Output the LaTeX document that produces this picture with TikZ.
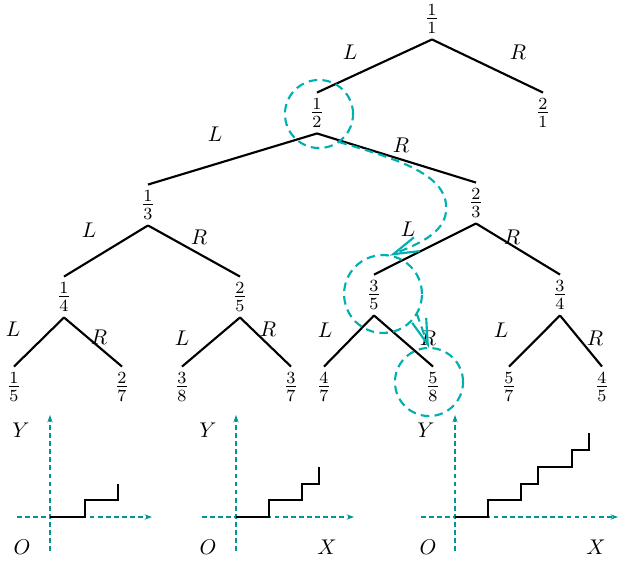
\documentclass[tikz,border=0pt]{standalone}
\usepackage{amsmath}
\usepackage{tikz}
\usetikzlibrary{arrows.meta}
\definecolor{tracecyan}{RGB}{0,176,176}
\definecolor{axisteal}{RGB}{0,150,150}

\begin{document}
\begin{tikzpicture}[x=0.47pt, y=-0.47pt, >=Stealth,
  frac/.style={inner sep=2.4pt, font=\fontsize{11.5}{13}\selectfont},
  lbl/.style={inner sep=0pt},
  edge/.style={line width=1pt, black},
  trace/.style={tracecyan, line width=1pt, dash pattern=on 4pt off 2.5pt},
  ring/.style={trace, circle, draw, inner sep=0pt, outer sep=0pt},
  barb/.style={-{Straight Barb[length=12pt, width=7pt]}},
  axis/.style={axisteal, line width=0.5pt, dash pattern=on 2.2pt off 1.6pt,
    -{Stealth[length=3.5pt, width=2.5pt]}},
  stairs/.style={line width=0.8pt}]
\useasboundingbox (0,0) rectangle (619,561);

% ---- tree nodes (top to bottom) ----
\node[frac] (n11) at (432, 19) {$\frac{1}{1}$};

\node[frac] (n12) at (317,113) {$\frac{1}{2}$};
\node[frac] (n21) at (543,113) {$\frac{2}{1}$};

\node[frac] (n13) at (148,205) {$\frac{1}{3}$};
\node[frac] (n23) at (476,203) {$\frac{2}{3}$};

\node[frac] (n14) at ( 64,297) {$\frac{1}{4}$};
\node[frac] (n25) at (240,297) {$\frac{2}{5}$};
\node[frac] (n35) at (374,295) {$\frac{3}{5}$};
\node[frac] (n34) at (560,295) {$\frac{3}{4}$};

\node[frac] (n15) at ( 14,387) {$\frac{1}{5}$};
\node[frac] (n27) at (122,387) {$\frac{2}{7}$};
\node[frac] (n38) at (182,387) {$\frac{3}{8}$};
\node[frac] (n37) at (291,387) {$\frac{3}{7}$};
\node[frac] (n47) at (324,387) {$\frac{4}{7}$};
\node[frac] (n58) at (433,387) {$\frac{5}{8}$};
\node[frac] (n57) at (509,387) {$\frac{5}{7}$};
\node[frac] (n45) at (602,387) {$\frac{4}{5}$};

% ---- branches ----
\draw[edge] (n11.south) -- (n12.north);
\draw[edge] (n11.south) -- (n21.north);
\draw[edge] (n12.south) -- (n13.north);
\draw[edge] (n12.south) -- (n23.north);
\draw[edge] (n13.south) -- (n14.north);
\draw[edge] (n13.south) -- (n25.north);
\draw[edge] (n23.south) -- (n35.north);
\draw[edge] (n23.south) -- (n34.north);
\draw[edge] (n14.south) -- (n15.north);
\draw[edge] (n14.south) -- (n27.north);
\draw[edge] (n25.south) -- (n38.north);
\draw[edge] (n25.south) -- (n37.north);
\draw[edge] (n35.south) -- (n47.north);
\draw[edge] (n35.south) -- (n58.north);
\draw[edge] (n34.south) -- (n57.north);
\draw[edge] (n34.south) -- (n45.north);

% ---- branch labels ----
\node[lbl] (l11) at (350, 52) {$L$};
\node[lbl] (r11) at (518, 52) {$R$};
\node[lbl] (l12) at (215,134) {$L$};
\node[lbl] (r12) at (401,145) {$R$};
\node[lbl] (l13) at ( 89,230) {$L$};
\node[lbl] (r13) at (199,237) {$R$};
\node[lbl] (l23) at (408,229) {$L$};
\node[lbl] (r23) at (512,237) {$R$};
\node[lbl] (l14) at ( 13,329) {$L$};
\node[lbl] (r14) at ( 99,337) {$R$};
\node[lbl] (l25) at (182,338) {$L$};
\node[lbl] (r25) at (268,329) {$R$};
\node[lbl] (l35) at (325,330) {$L$};
\node[lbl] (r35) at (428,338) {$R$};
\node[lbl] (l34) at (501,330) {$L$};
\node[lbl] (r34) at (595,338) {$R$};

% ---- search trace ----
\node[ring, minimum size=32pt]   (c12) at (319,114) {};
\node[ring, minimum size=36.6pt] (c35) at (383,294) {};
\node[ring, minimum size=32pt]   (c58) at (429,382) {};
\draw[trace, barb] (c12.-55) .. controls (400,160) and (450,175) .. (446,212)
  .. controls (443,235) and (415,245) .. (c35.80);
\draw[trace, barb] (c35.-30) -- (c58.north);

% ---- staircases ----
\draw[axis] ( 17,517) -- (152,517);
\draw[axis] ( 50,551) -- ( 50,415);
\draw[stairs] (50,517) -| (85,500) -| (118,484);
\node (y1) at ( 21,430) {$Y$};
\node (o1) at ( 22,547) {$O$};

\draw[axis] (202,517) -- (354,517);
\draw[axis] (236,551) -- (236,415);
\draw[stairs] (236,517) -| (269,500) -| (302,484) -| (319,467);
\node (y2) at (208,430) {$Y$};
\node (o2) at (208,547) {$O$};
\node (x2) at (327,547) {$X$};

\draw[axis] (421,517) -- (618,517);
\draw[axis] (455,551) -- (455,415);
\draw[stairs] (455,517) -| (488,500) -| (521,484) -| (538,467)
  -| (572,450) -| (589,433);
\node (y3) at (426,430) {$Y$};
\node (o3) at (428,547) {$O$};
\node (x3) at (596,547) {$X$};
\end{tikzpicture}
\end{document}
